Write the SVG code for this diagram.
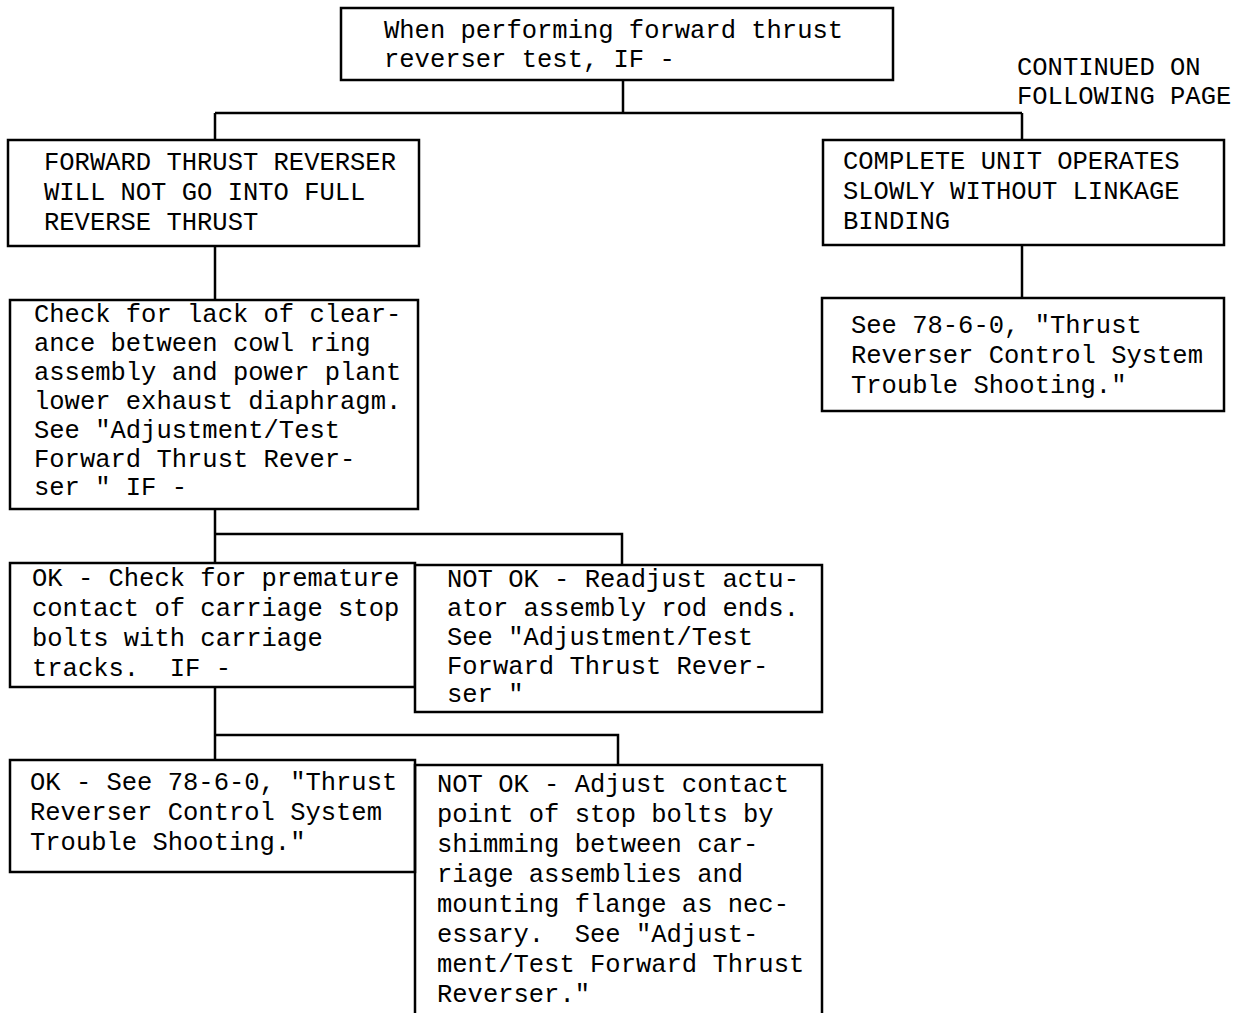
<svg xmlns="http://www.w3.org/2000/svg" width="1234" height="1013" viewBox="0 0 1234 1013">
<style>
.box{fill:#fff;stroke:#000;stroke-width:2.5}
.ln{fill:none;stroke:#000;stroke-width:2.5}
text{font-family:"Liberation Mono","Courier New",monospace;font-size:25.5px;fill:#000;white-space:pre}
</style>
<rect width="1234" height="1013" fill="#fff"/>
<g id="connectors">
<path class="ln" d="M623,80 V113 M215,113 H1022 M215,113 V140 M1022,113 V140"/>
<path class="ln" d="M215,246 V300"/>
<path class="ln" d="M1022,245 V298"/>
<path class="ln" d="M215,509 V563 M215,534 H622 V565"/>
<path class="ln" d="M215,687 V760 M215,735 H618 V765"/>
</g>
<g id="n-top">
<rect class="box" x="341" y="8" width="552" height="72"/>
<text x="384" y="38">When performing forward thrust</text>
<text x="384" y="67">reverser test, IF -</text>
</g>
<g id="note-continued">
<text x="1017" y="75">CONTINUED ON</text>
<text x="1017" y="104">FOLLOWING PAGE</text>
</g>
<g id="n-left1">
<rect class="box" x="8" y="140" width="411" height="106"/>
<text x="44" y="170">FORWARD THRUST REVERSER</text>
<text x="44" y="200">WILL NOT GO INTO FULL</text>
<text x="44" y="230">REVERSE THRUST</text>
</g>
<g id="n-right1">
<rect class="box" x="823" y="140" width="401" height="105"/>
<text x="843" y="169">COMPLETE UNIT OPERATES</text>
<text x="843" y="199">SLOWLY WITHOUT LINKAGE</text>
<text x="843" y="229">BINDING</text>
</g>
<g id="n-left2">
<rect class="box" x="10" y="300" width="408" height="209"/>
<text x="34" y="322">Check for lack of clear-</text>
<text x="34" y="351">ance between cowl ring</text>
<text x="34" y="380">assembly and power plant</text>
<text x="34" y="409">lower exhaust diaphragm.</text>
<text x="34" y="438">See "Adjustment/Test</text>
<text x="34" y="467">Forward Thrust Rever-</text>
<text x="34" y="495">ser " IF -</text>
</g>
<g id="n-right2">
<rect class="box" x="822" y="298" width="402" height="113"/>
<text x="851" y="333">See 78-6-0, "Thrust</text>
<text x="851" y="363">Reverser Control System</text>
<text x="851" y="393">Trouble Shooting."</text>
</g>
<g id="n-ok1">
<rect class="box" x="10" y="563" width="405" height="124"/>
<text x="32" y="586">OK - Check for premature</text>
<text x="32" y="616">contact of carriage stop</text>
<text x="32" y="646">bolts with carriage</text>
<text x="32" y="676">tracks.  IF -</text>
</g>
<g id="n-notok1">
<rect class="box" x="415" y="565" width="407" height="147"/>
<text x="447" y="587">NOT OK - Readjust actu-</text>
<text x="447" y="616">ator assembly rod ends.</text>
<text x="447" y="645">See "Adjustment/Test</text>
<text x="447" y="674">Forward Thrust Rever-</text>
<text x="447" y="702">ser "</text>
</g>
<g id="n-ok2">
<rect class="box" x="10" y="760" width="405" height="112"/>
<text x="30" y="790">OK - See 78-6-0, "Thrust</text>
<text x="30" y="820">Reverser Control System</text>
<text x="30" y="850">Trouble Shooting."</text>
</g>
<g id="n-notok2">
<path class="ln" d="M415,1013 V765 H822 V1013"/>
<text x="437" y="792">NOT OK - Adjust contact</text>
<text x="437" y="822">point of stop bolts by</text>
<text x="437" y="852">shimming between car-</text>
<text x="437" y="882">riage assemblies and</text>
<text x="437" y="912">mounting flange as nec-</text>
<text x="437" y="942">essary.  See "Adjust-</text>
<text x="437" y="972">ment/Test Forward Thrust</text>
<text x="437" y="1002">Reverser."</text>
</g>
</svg>
